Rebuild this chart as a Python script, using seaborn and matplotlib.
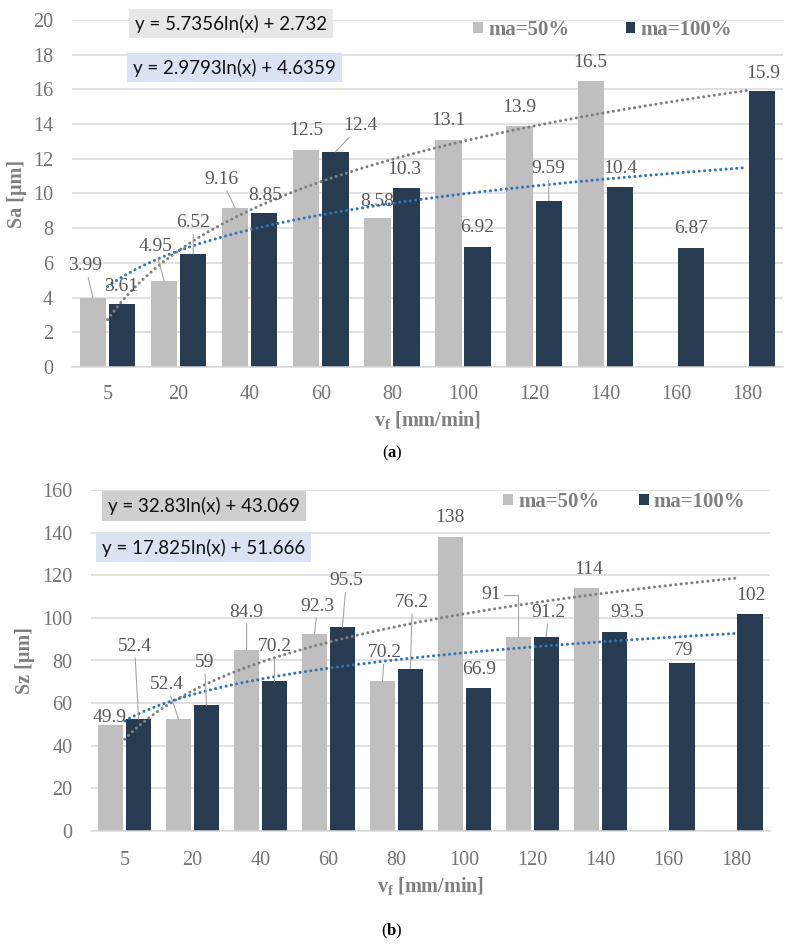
import numpy as np
import pandas as pd
import matplotlib
matplotlib.use("Agg")
import matplotlib.pyplot as plt
import seaborn as sns

################################################
# Data
################################################
feed_rates = ["5", "20", "40", "60", "80", "100", "120", "140", "160", "180"]
series_names = ["ma=50%", "ma=100%"]

sa_ma50 = [3.99, 4.95, 9.16, 12.5, 8.58, 13.1, 13.9, 16.5, np.nan, np.nan]
sa_ma100 = [3.61, 6.52, 8.85, 12.4, 10.3, 6.92, 9.59, 10.4, 6.87, 15.9]

sz_ma50 = [49.9, 52.4, 84.9, 92.3, 70.2, 138, 91, 114, np.nan, np.nan]
sz_ma100 = [52.4, 59, 70.2, 95.5, 76.2, 66.9, 91.2, 93.5, 79, 102]

sa_equations = ["y = 5.7356ln(x) + 2.732", "y = 2.9793ln(x) + 4.6359"]
sz_equations = ["y = 32.83ln(x) + 43.069", "y = 17.825ln(x) + 51.666"]

################################################
# Styling
################################################
SERIF = "Liberation Serif"
BAR_COLORS = {"ma=50%": "#BFBFBF", "ma=100%": "#273B51"}
TREND_COLORS = ["#7F7F7F", "#2E75B6"]
GRID_COLOR = "#D9D9D9"
TICK_COLOR = "#747474"
LABEL_COLOR = "#595959"
TITLE_COLOR = "#808080"
LEADER_COLOR = "#A6A6A6"

sns.set_theme(style="white")
plt.rcParams["font.family"] = [SERIF, "DejaVu Serif"]
plt.rcParams["mathtext.fontset"] = "custom"
plt.rcParams["mathtext.rm"] = SERIF
plt.rcParams["mathtext.bf"] = SERIF + ":bold"

# data label offsets in pixels (dx, dy, leader) per series, per category
sa_offsets = [
  [(-7.5, 34, True), (-9, 36.5, True), (-14, 31, True), (0, 22, False), (0, 19, False),
   (0, 21, False), (0, 20, False), (0, 20, False), None, None],
  [(-1, 19.5, False), (0, 33, True), (1, 20, False), (25, 28, True), (-2, 21, False),
   (0, 21, False), (0, 34, True), (0, 20, False), (0, 21, False), (1, 20, False)],
]
sz_offsets = [
  [(-1, 9.5, False), (-12, 37, True), (0, 40, True), (3, 30, True), (2, 31, True),
   (0, 21.5, False), (-27, 44.5, "elbow"), (2, 20.5, False), None, None],
  [(-4, 75, True), (-2, 45, True), (0, 37, True), (4, 48.5, True), (2, 68, True),
   (0.5, 20.5, False), (2.5, 26.5, True), (13, 21, False), (1, 14, False), (1, 20, False)],
]


def draw_panel(ax, ma50, ma100, ymax, ystep, ylabel, equations, eq_pos, eq_fills,
               offsets, legend_anchor, colspacing, ylabel_x, xlabel_y, ytick_pad, xtick_pad):
  df = pd.DataFrame({
    "vf": feed_rates * 2,
    "series": [series_names[0]] * len(feed_rates) + [series_names[1]] * len(feed_rates),
    "value": list(ma50) + list(ma100),
  })
  sns.barplot(data=df, x="vf", y="value", hue="series", order=feed_rates,
              hue_order=series_names, palette=BAR_COLORS, width=0.82, gap=0.098,
              errorbar=None, saturation=1, linewidth=0, ax=ax, zorder=2)

  # logarithmic trend lines (Excel style, x = 1..n, forecast to last category)
  xs = np.arange(1, len(feed_rates) + 1)
  xfine = np.linspace(1, len(feed_rates), 300)
  for vals, color in zip([ma50, ma100], TREND_COLORS):
    y = np.array(vals, dtype=float)
    ok = ~np.isnan(y)
    slope, icpt = np.polyfit(np.log(xs[ok]), y[ok], 1)
    ax.plot(xfine - 1, slope * np.log(xfine) + icpt, color=color, lw=2.2,
            linestyle=(0, (0.01, 1.75)), dash_capstyle="round", zorder=3)

  # data labels
  for container, offs in zip(ax.containers, offsets):
    for bar in container:
      h = bar.get_height()
      if np.isnan(h):
        continue
      cx = bar.get_x() + bar.get_width() / 2
      i = int(round(cx))
      dx, dy, leader = offs[i]
      arrow = None
      if leader:
        arrow = dict(arrowstyle="-", color=LEADER_COLOR, lw=0.8, shrinkA=0, shrinkB=0)
        if leader == "elbow":
          arrow["connectionstyle"] = "angle,angleA=0,angleB=90,rad=0"
      ax.annotate(f"{h:g}", xy=(cx, h), xytext=(dx, dy - 2), textcoords="offset pixels",
                  ha="center", va="center", fontsize=14, family=SERIF, color=LABEL_COLOR,
                  arrowprops=arrow, zorder=5)

  # equation boxes
  for text, (ex, ey), fill in zip(equations, eq_pos, eq_fills):
    ax.text(ex, ey, text, transform=ax.transAxes, ha="center", va="center",
            family="Lato", fontsize=13.5, color="#111111", zorder=6, clip_on=False,
            bbox=dict(boxstyle="square,pad=0.3", fc=fill, ec="none"))

  ax.set_xlim(-0.5, len(feed_rates) - 0.5)
  ax.set_ylim(0, ymax)
  ax.set_yticks(np.arange(0, ymax + 0.1, ystep))
  ax.yaxis.grid(True, color=GRID_COLOR, lw=1.1)
  ax.set_axisbelow(True)
  for side in ["top", "right", "left"]:
    ax.spines[side].set_visible(False)
  ax.spines["bottom"].set_color(GRID_COLOR)
  ax.spines["bottom"].set_linewidth(1.1)
  ax.tick_params(axis="y", length=0, pad=ytick_pad, labelsize=14.5, labelcolor=TICK_COLOR)
  ax.tick_params(axis="x", length=0, pad=xtick_pad, labelsize=14.5, labelcolor=TICK_COLOR)
  for lab in ax.get_xticklabels() + ax.get_yticklabels():
    lab.set_family(SERIF)

  ax.set_ylabel(ylabel, fontsize=14.5, fontweight="bold", family=SERIF,
                color=TITLE_COLOR, va="center")
  ax.yaxis.set_label_coords(ylabel_x, 0.5)
  ax.set_xlabel(r"v$_\mathbf{f}$ [mm/min]", fontsize=14.5, fontweight="bold", family=SERIF,
                color=TITLE_COLOR, va="center")
  ax.xaxis.set_label_coords(0.5, xlabel_y)

  handles, labels = ax.get_legend_handles_labels()
  ax.legend(handles, labels, ncol=2, loc="center left", bbox_to_anchor=legend_anchor,
            frameon=False, handlelength=0.47, handleheight=0.47, handletextpad=0.25,
            columnspacing=colspacing, borderpad=0, borderaxespad=0,
            prop={"family": SERIF, "weight": "bold", "size": 15}, labelcolor=TITLE_COLOR)


fig = plt.figure(figsize=(7.94, 9.47), dpi=100)
ax_top = fig.add_axes([72 / 794, 1 - 367 / 947, 711 / 794, 347 / 947])
ax_bot = fig.add_axes([90.7 / 794, 1 - 831 / 947, 679.3 / 794, 341 / 947])

draw_panel(ax_top, sa_ma50, sa_ma100, 20, 2, "Sa [μm]", sa_equations,
           [(0.2236, 0.990), (0.2285, 0.863)], ["#E7E7E7", "#DAE3F3"],
           sa_offsets, (0.564, 0.971), 2.7, -0.0767, -0.155, 13.7, 12.7)
draw_panel(ax_bot, sz_ma50, sz_ma100, 160, 20, "Sz [μm]", sz_equations,
           [(0.1668, 0.953), (0.166, 0.831)], ["#D0CECE", "#DAE3F3"],
           sz_offsets, (0.607, 0.965), 1.9, -0.0967, -0.165, 13.0, 14.2)

fig.text(0.494, 1 - 453 / 947, r"($\mathbf{a}$)", ha="center", va="center",
         fontsize=12, family=SERIF, color="black")
fig.text(0.494, 1 - 931 / 947, r"($\mathbf{b}$)", ha="center", va="center",
         fontsize=12, family=SERIF, color="black")

fig.savefig("out.png", dpi=100)
